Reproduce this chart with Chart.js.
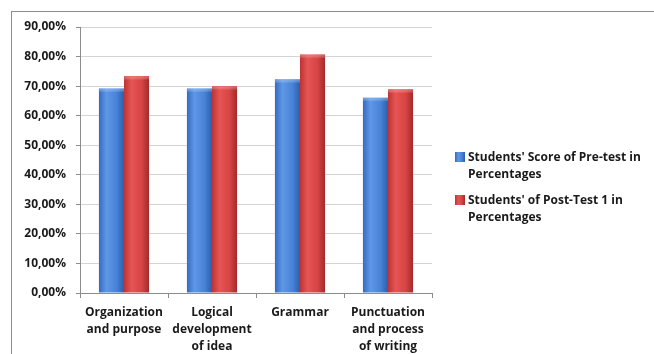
<!DOCTYPE html>
<html lang="en">
<head>
<meta charset="UTF-8">
<title>Pre-test vs Post-test 1</title>
<script src="https://cdn.jsdelivr.net/npm/chart.js"></script>
<style>
    html, body { margin: 0; padding: 0; background: #fff; }
    .wrap { position: relative; width: 654px; height: 354px; overflow: hidden; }
    .frame {
        position: absolute; left: 11px; top: 11px; width: 660px; height: 360px;
        border-top: 1px solid #8c8c8c; border-left: 1px solid #8c8c8c;
    }
    canvas { position: absolute; left: 0; top: 0; }
    .legend {
        position: absolute; left: 455px; top: 148px; width: 199px;
        font-family: 'Open Sans', sans-serif; font-weight: bold; font-size: 12px;
        color: #1a1a1a; line-height: 17px;
    }
    .legend .item { position: relative; padding-left: 13px; margin-bottom: 9px; }
    .legend .sw { position: absolute; left: 0; top: 4px; width: 10px; height: 10px; }
</style>
</head>
<body>
<div class="wrap">
    <div class="frame"></div>
    <canvas id="chart" width="654" height="354"></canvas>
    <div class="legend" id="legend"></div>
</div>
<script>
    const categories = [
        ['Organization', 'and purpose'],
        ['Logical', 'development', 'of idea'],
        ['Grammar'],
        ['Punctuation', 'and process', 'of writing']
    ];
    const seriesNames = ["Students' Score of Pre-test in Percentages", "Students' of Post-Test 1 in Percentages"];
    const preTest = [69.2, 69.2, 72.3, 66.1];
    const postTest1 = [73.4, 70.0, 80.7, 68.9];
    const yTicks = [0, 10, 20, 30, 40, 50, 60, 70, 80, 90];

    const gradStops = [
        ['#356bc0', '#5f97e6', '#4883d8', '#2d5eac'],
        ['#bd3333', '#e65454', '#d84444', '#a02b2b']
    ];
    const topGlow = ['rgba(150,190,245,0.55)', 'rgba(245,140,140,0.55)'];

    // paints each bar with a horizontal gradient like the office "glass" look
    const barShade = {
        id: 'barShade',
        beforeDatasetsDraw(chart) {
            const c = chart.ctx;
            chart.data.datasets.forEach(function (ds, i) {
                const s = gradStops[i];
                chart.getDatasetMeta(i).data.forEach(function (el) {
                    const l = el.x - el.width / 2, r = el.x + el.width / 2;
                    const g = c.createLinearGradient(l, 0, r, 0);
                    g.addColorStop(0, s[0]);
                    g.addColorStop(0.3, s[1]);
                    g.addColorStop(0.7, s[2]);
                    g.addColorStop(1, s[3]);
                    el.options.backgroundColor = g;
                });
            });
        },
        // small lighter bevel on the top of every bar
        afterDatasetsDraw(chart) {
            const c = chart.ctx;
            chart.data.datasets.forEach(function (ds, i) {
                chart.getDatasetMeta(i).data.forEach(function (el) {
                    const l = el.x - el.width / 2;
                    const g = c.createLinearGradient(0, el.y, 0, el.y + 4);
                    g.addColorStop(0, topGlow[i]);
                    g.addColorStop(1, 'rgba(255,255,255,0)');
                    c.save();
                    c.fillStyle = g;
                    c.fillRect(l, el.y, el.width, 4);
                    c.restore();
                });
            });
        }
    };

    const font = { family: "'Open Sans', sans-serif", weight: 'bold', size: 12, lineHeight: 1.42 };

    new Chart(document.getElementById('chart'), {
        type: 'bar',
        data: {
            labels: categories,
            datasets: [
                { label: seriesNames[0], data: preTest, backgroundColor: function (ctx) { return gradStops[0][2]; } },
                { label: seriesNames[1], data: postTest1, backgroundColor: function (ctx) { return gradStops[1][2]; } }
            ]
        },
        options: {
            responsive: false,
            animation: false,
            devicePixelRatio: 1,
            layout: { padding: { top: 27, right: 222, left: 0, bottom: 0 } },
            datasets: { bar: { categoryPercentage: 0.57, barPercentage: 1 } },
            plugins: { legend: { display: false }, tooltip: { enabled: false } },
            scales: {
                x: {
                    grid: { drawOnChartArea: false, drawTicks: true, tickLength: 5, color: '#8c8c8c' },
                    border: { color: '#8c8c8c' },
                    ticks: { font: font, color: '#1a1a1a', padding: 6, maxRotation: 0, autoSkip: false },
                    afterFit(scale) { scale.height = 61; }
                },
                y: {
                    min: 0, max: 90,
                    afterBuildTicks(scale) { scale.ticks = yTicks.map(function (v) { return { value: v }; }); },
                    grid: { color: '#d4d4d4', tickLength: 4, tickColor: '#8c8c8c' },
                    border: { color: '#8c8c8c' },
                    ticks: {
                        font: font, color: '#1a1a1a', padding: 10,
                        callback: function (v) { return v.toFixed(2).replace('.', ',') + '%'; }
                    },
                    afterFit(scale) { scale.width = 80; }
                }
            }
        },
        plugins: [barShade]
    });

    const legend = document.getElementById('legend');
    seriesNames.forEach(function (name, i) {
        const item = document.createElement('div');
        item.className = 'item';
        const sw = document.createElement('span');
        sw.className = 'sw';
        sw.style.background = 'linear-gradient(90deg,' + gradStops[i].join(',') + ')';
        item.appendChild(sw);
        item.appendChild(document.createTextNode(name));
        legend.appendChild(item);
    });
</script>
</body>
</html>
